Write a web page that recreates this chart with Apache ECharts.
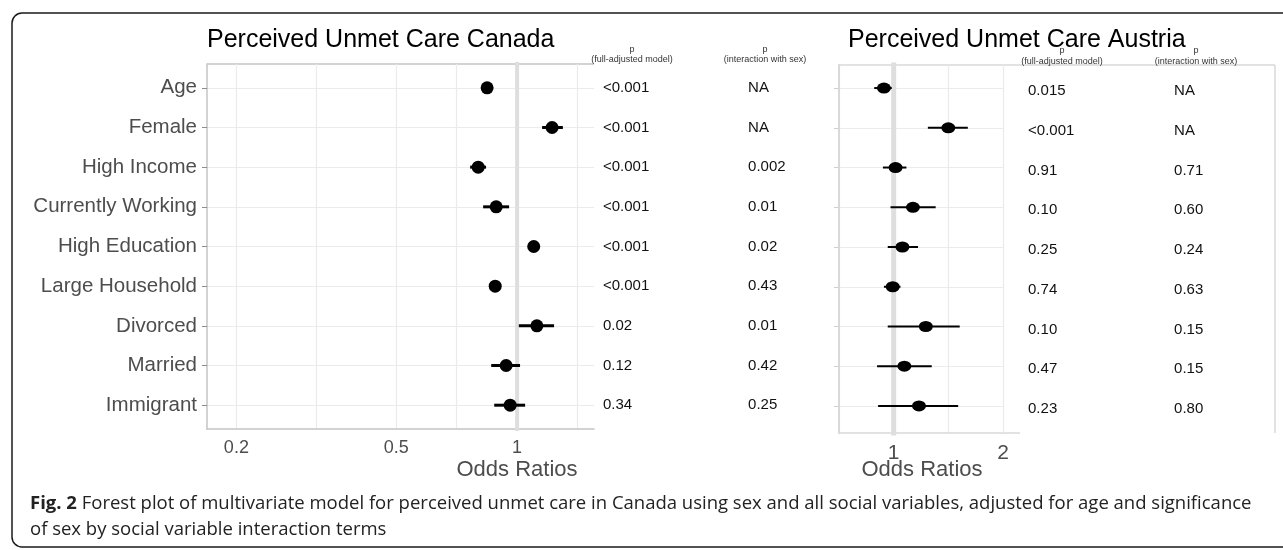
<!DOCTYPE html>
<html>
<head>
<meta charset="utf-8">
<style>
  html, body { margin: 0; padding: 0; background: #fff; }
  #chart { width: 1283px; height: 550px; }
</style>
<script src="https://cdn.jsdelivr.net/npm/echarts@6.0.0/dist/echarts.min.js"></script>
</head>
<body>
<div id="chart"></div>
<script>
var rows = ['Age', 'Female', 'High Income', 'Currently Working', 'High Education', 'Large Household', 'Divorced', 'Married', 'Immigrant'];

// Canada: odds ratio + 95% CI
var caOR = [0.842, 1.222, 0.800, 0.887, 1.100, 0.882, 1.120, 0.939, 0.961];
var caLo = [0.834, 1.154, 0.764, 0.823, 1.090, 0.874, 1.010, 0.862, 0.877];
var caHi = [0.850, 1.300, 0.837, 0.955, 1.110, 0.890, 1.236, 1.017, 1.047];
var caPFull = ['<0.001', '<0.001', '<0.001', '<0.001', '<0.001', '<0.001', '0.02', '0.12', '0.34'];
var caPSex = ['NA', 'NA', '0.002', '0.01', '0.02', '0.43', '0.01', '0.42', '0.25'];

// Austria
var atOR = [0.940, 1.414, 1.012, 1.130, 1.057, 0.994, 1.226, 1.070, 1.174];
var atLo = [0.884, 1.242, 0.934, 0.980, 0.963, 0.940, 0.963, 0.900, 0.906];
var atHi = [0.988, 1.600, 1.084, 1.305, 1.167, 1.044, 1.520, 1.273, 1.505];
var atPFull = ['0.015', '<0.001', '0.91', '0.10', '0.25', '0.74', '0.10', '0.47', '0.23'];
var atPSex = ['NA', 'NA', '0.71', '0.60', '0.24', '0.63', '0.15', '0.15', '0.80'];

var caTicks = [0.2, 0.5, 1];
var caGrid = [0.2, 0.316, 0.5, 0.707, 1, 1.414];
var atTicks = [1, 2];
var atGrid = [0.707, 1, 1.414, 2];
var rowIdx = [0, 1, 2, 3, 4, 5, 6, 7, 8];

var FONT = '"Liberation Sans", Arial, sans-serif';
var CAP_FONT = '"Open Sans", "Noto Sans", sans-serif';
var GREY = '#4d4d4d';

function pts(or) {
  return or.map(function (v, i) { return [v, i]; });
}
function bars(lo, hi) {
  return lo.map(function (v, i) { return [v, hi[i], i]; });
}

function ciSeries(ax, lo, hi, w) {
  return {
    type: 'custom',
    xAxisIndex: ax, yAxisIndex: ax,
    z: 3,
    encode: { x: [0, 1], y: 2 },
    data: bars(lo, hi),
    renderItem: function (params, api) {
      var a = api.coord([api.value(0), api.value(2)]);
      var b = api.coord([api.value(1), api.value(2)]);
      return {
        type: 'line',
        shape: { x1: a[0], y1: a[1], x2: b[0], y2: b[1] },
        style: { stroke: '#000', lineWidth: w }
      };
    }
  };
}

function dotSeries(ax, or, size) {
  return {
    type: 'scatter',
    xAxisIndex: ax, yAxisIndex: ax,
    z: 4,
    symbol: 'circle',
    symbolSize: size,
    itemStyle: { color: '#000', opacity: 1 },
    data: pts(or)
  };
}

function refLine(ax, w) {
  return {
    type: 'line',
    xAxisIndex: ax, yAxisIndex: ax,
    z: 1,
    symbol: 'none',
    silent: true,
    lineStyle: { color: '#dedede', width: w },
    data: [[1, -1], [1, 10]]
  };
}

function textSeries(ax, col, labels, dy) {
  return {
    type: 'custom',
    xAxisIndex: ax, yAxisIndex: ax,
    data: labels.map(function (t, i) { return [col, i]; }),
    renderItem: function (params, api) {
      var p = api.coord([api.value(0), api.value(1)]);
      return {
        type: 'text',
        x: p[0], y: p[1] + dy,
        style: {
          text: labels[params.dataIndex],
          fill: '#111',
          font: '15px ' + FONT,
          textAlign: 'left',
          textVerticalAlign: 'middle'
        }
      };
    }
  };
}

function yPlot(grid, lo, hi, showLabels, lineColor, lineW, tickColor) {
  return {
    type: 'value', gridIndex: grid, inverse: true, min: lo, max: hi,
    axisLine: { show: true, lineStyle: { color: lineColor, width: lineW } },
    axisTick: { show: true, customValues: rowIdx, length: 5, lineStyle: { color: tickColor } },
    axisLabel: {
      show: showLabels, customValues: rowIdx, margin: 10,
      fontSize: 20.5, color: GREY, fontFamily: FONT,
      formatter: function (v) { return rows[v] || ''; }
    },
    splitLine: { show: true, lineStyle: { color: '#ebebeb', width: 1.2 } }
  };
}

function xPlot(grid, lo, hi, ticks, gridVals, fs, lineColor) {
  return {
    type: 'log', logBase: 10, gridIndex: grid, min: lo, max: hi,
    axisLine: { show: true, onZero: false, lineStyle: { color: lineColor, width: 1.5 } },
    axisTick: { show: false, customValues: gridVals },
    axisLabel: {
      customValues: ticks, margin: 10, fontSize: fs, color: GREY, fontFamily: FONT,
      formatter: function (v) { return String(Math.round(v * 10) / 10); }
    },
    splitLine: { show: true, lineStyle: { color: '#ebebeb', width: 1.2 } }
  };
}

function hidden(type, grid, lo, hi, inv) {
  return { type: type, gridIndex: grid, min: lo, max: hi, inverse: !!inv, show: false, splitLine: { show: false } };
}

function txt(x, y, s, size, opts) {
  opts = opts || {};
  return {
    type: 'text', x: x, y: y, silent: true,
    style: {
      text: s, fill: opts.fill || '#000',
      font: (opts.weight || 'normal') + ' ' + size + 'px ' + (opts.family || FONT),
      textAlign: opts.align || 'left', textVerticalAlign: 'middle'
    }
  };
}

function hline(x1, y1, x2, y2, color, w) {
  return { type: 'line', silent: true, shape: { x1: x1, y1: y1, x2: x2, y2: y2 }, style: { stroke: color, lineWidth: w } };
}

var chart = echarts.init(document.getElementById('chart'), null, { renderer: 'canvas' });

var option = {
  animation: false,
  backgroundColor: '#fff',
  grid: [
    { left: 207, top: 64, width: 387, height: 365 },
    { left: 595, top: 64, width: 210, height: 365 },
    { left: 839, top: 65, width: 164, height: 368 },
    { left: 1003, top: 65, width: 272, height: 368 }
  ],
  xAxis: [
    xPlot(0, 0.169, 1.554, caTicks, caGrid, 18, '#c4c4c4'),
    hidden('value', 1, 0, 1),
    xPlot(2, 0.707, 2.0, atTicks, atGrid, 21, '#d9d9d9'),
    hidden('value', 3, 0, 1)
  ],
  yAxis: [
    yPlot(0, -0.6, 8.6, true, '#c4c4c4', 1.5, '#8c8c8c'),
    hidden('value', 1, -0.6, 8.6, true),
    yPlot(2, -0.58, 8.68, false, '#d9d9d9', 2, '#d0d0d0'),
    hidden('value', 3, -0.58, 8.68, true)
  ],
  series: [
    refLine(0, 4),
    ciSeries(0, caLo, caHi, 3),
    dotSeries(0, caOR, 13),
    textSeries(1, 0.038, caPFull, 0),
    textSeries(1, 0.729, caPSex, 0),
    refLine(2, 5),
    ciSeries(2, atLo, atHi, 2),
    dotSeries(2, atOR, [14, 11]),
    textSeries(3, 0.092, atPFull, 3),
    textSeries(3, 0.629, atPSex, 3)
  ],
  graphic: [
    { type: 'rect', silent: true, shape: { x: 12, y: 13, width: 1300, height: 534, r: 10 }, style: { fill: 'none', stroke: '#1a1a1a', lineWidth: 1.5 } },
    hline(207, 64, 594, 64, '#c4c4c4', 1.5),
    hline(839, 65, 1275, 65, '#d9d9d9', 1.5),
    hline(1275, 65, 1275, 433, '#d9d9d9', 1.5),
    hline(1003, 433, 1020, 433, '#d9d9d9', 1.5),
    txt(207, 40, 'Perceived Unmet Care Canada', 25),
    txt(848, 40, 'Perceived Unmet Care Austria', 25),
    txt(632, 50, 'p', 9, { align: 'center', fill: '#333' }),
    txt(632, 60, '(full-adjusted model)', 9, { align: 'center', fill: '#333' }),
    txt(765, 50, 'p', 9, { align: 'center', fill: '#333' }),
    txt(765, 60, '(interaction with sex)', 9, { align: 'center', fill: '#333' }),
    txt(1062, 51, 'p', 9, { align: 'center', fill: '#333' }),
    txt(1062, 62, '(full-adjusted model)', 9, { align: 'center', fill: '#333' }),
    txt(1196, 51, 'p', 9, { align: 'center', fill: '#333' }),
    txt(1196, 62, '(interaction with sex)', 9, { align: 'center', fill: '#333' }),
    txt(517, 470, 'Odds Ratios', 22, { align: 'center', fill: GREY }),
    txt(922, 470, 'Odds Ratios', 22, { align: 'center', fill: GREY }),
    {
      type: 'text', x: 30, y: 504, silent: true,
      style: {
        text: '{b|Fig. 2} Forest plot of multivariate model for perceived unmet care in Canada using sex and all social variables, adjusted for age and significance',
        font: '18.5px ' + CAP_FONT, fill: '#222', textVerticalAlign: 'middle',
        rich: { b: { fontWeight: 'bold', fontSize: 18.5, fontFamily: CAP_FONT, fill: '#222' } }
      }
    },
    txt(30, 530, 'of sex by social variable interaction terms', 18.5, { family: CAP_FONT, fill: '#222' })
  ]
};

chart.setOption(option);
</script>
</body>
</html>
